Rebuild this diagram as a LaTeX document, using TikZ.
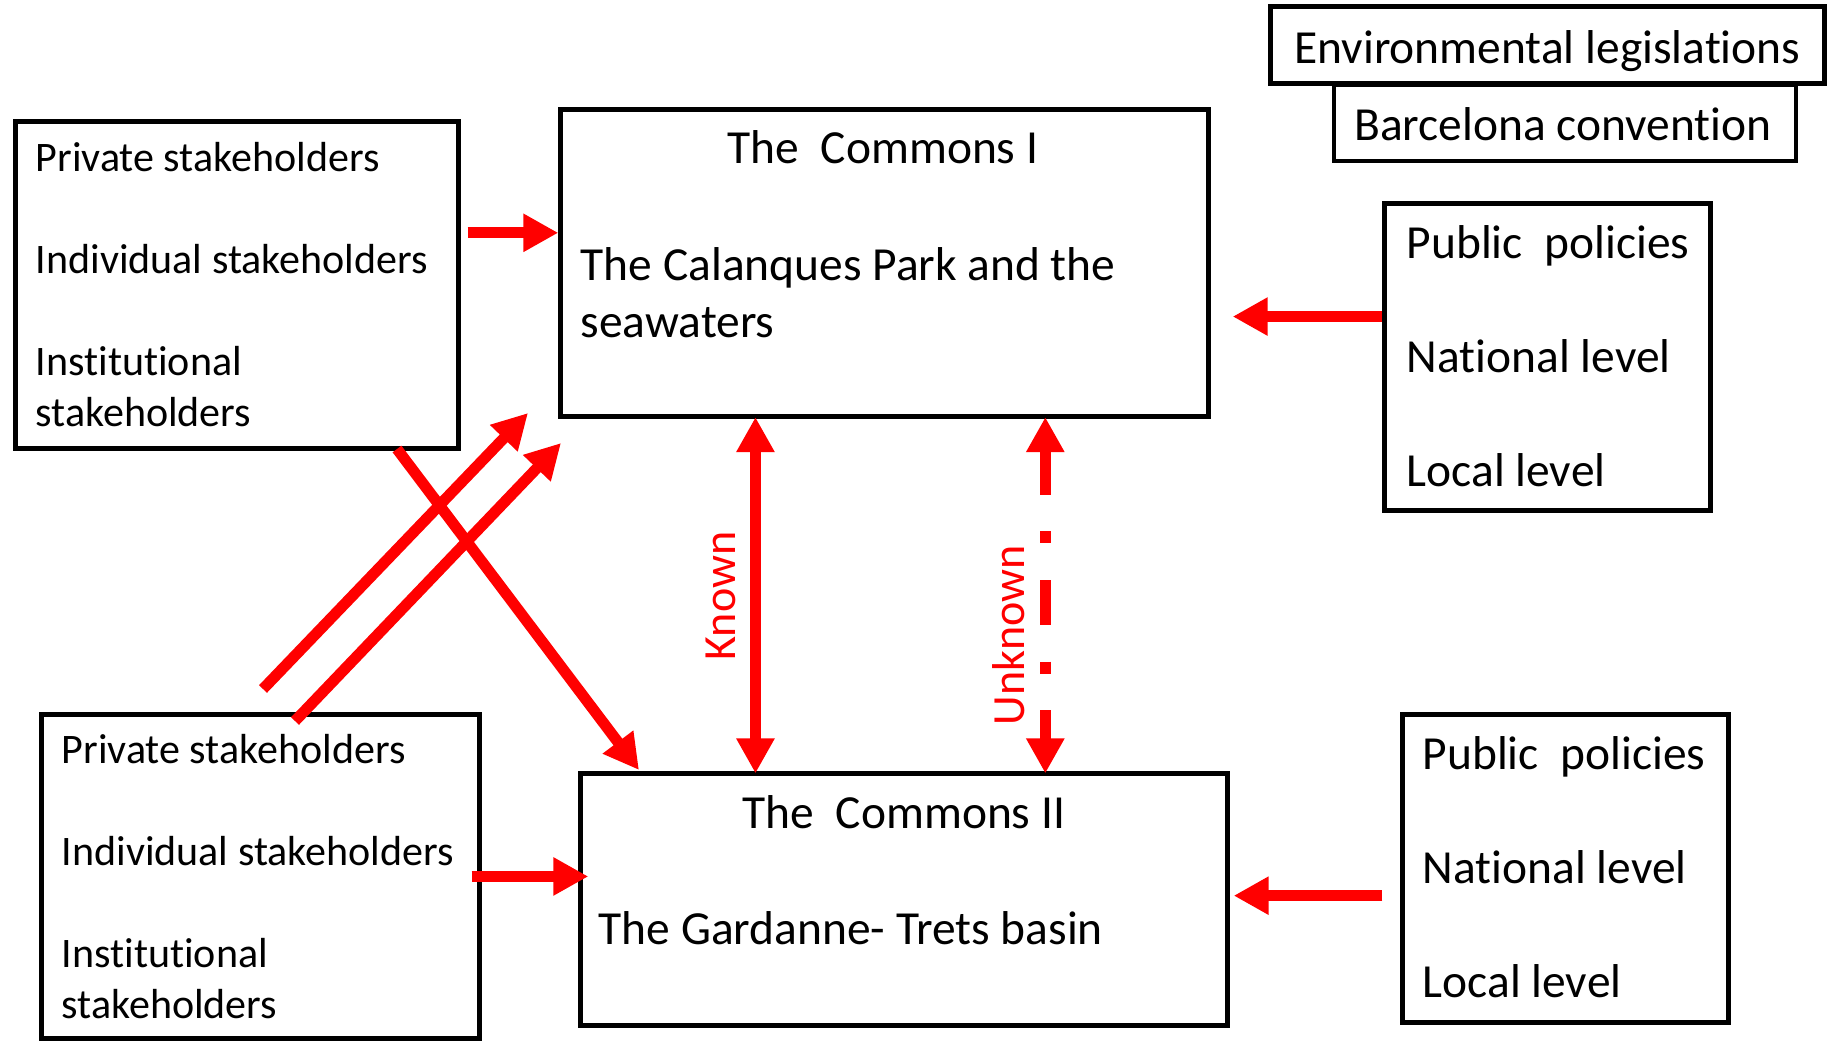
\documentclass[tikz,border=0pt]{standalone}
\usepackage{fontspec}
\setmainfont{Carlito}[Ligatures={NoCommon}]
\usetikzlibrary{arrows.meta,calc}
\definecolor{pptred}{RGB}{255,0,0}
\newcommand\stkfont{\fontsize{11.95pt}{0.51cm}\selectfont}
\newcommand\bigfont{\fontsize{13.5pt}{0.57cm}\selectfont}
\newcommand\lblfont{\fontsize{13.1pt}{0.55cm}\selectfont}
\begin{document}
\begin{tikzpicture}[x=0.01cm,y=-0.01cm,
  box/.style={draw=black, line width=0.05cm, inner sep=0pt, rectangle},
  thinbox/.style={draw=black, line width=0.038cm, inner sep=0pt, rectangle},
  txt/.style={inner sep=0pt, anchor=base west},
  ctxt/.style={inner sep=0pt, anchor=base},
  arr/.style={draw=pptred, line width=0.11cm, -{Triangle[length=0.35cm,width=0.36cm]}},
  biarr/.style={draw=pptred, line width=0.11cm, {Triangle[length=0.35cm,width=0.36cm]}-{Triangle[length=0.35cm,width=0.36cm]}, shorten <=-0.055cm, shorten >=-0.05cm},
  lbl/.style={inner sep=0pt, anchor=base, rotate=90, text=pptred, font=\lblfont}
]
\useasboundingbox (0,0) rectangle (1829,1042);

% boxes
\node[box, minimum width=4.42cm, minimum height=3.26cm] (sh1) at (237,285) {};
\node[box, minimum width=6.47cm, minimum height=3.06cm] (c1) at (884.5,263) {};
\node[box, minimum width=3.25cm, minimum height=3.06cm] (pp1) at (1547.5,357) {};
\node[thinbox, minimum width=4.62cm, minimum height=0.76cm] (bar) at (1565,123) {};
\node[box, fill=white, minimum width=5.53cm, minimum height=0.76cm] (env) at (1547.5,45) {};
\node[box, minimum width=4.37cm, minimum height=3.23cm] (sh2) at (260.5,876.5) {};
\node[box, minimum width=6.46cm, minimum height=2.51cm] (c2) at (904,899.5) {};
\node[box, minimum width=3.25cm, minimum height=3.07cm] (pp2) at (1565.5,868.5) {};

% texts
\node[ctxt] (envt) at (1547.5,63) {\bigfont Environmental legislations};
\node[ctxt] (bart) at (1563,140) {\bigfont Barcelona convention};
\node[txt] (sh1t) at (35,171) {\parbox[t]{4.2cm}{\stkfont Private stakeholders\\[0.51cm]Individual stakeholders\\[0.51cm]Institutional\\stakeholders}};
\node[txt] (sh2t) at (61,763) {\parbox[t]{4.2cm}{\stkfont Private stakeholders\\[0.51cm]Individual stakeholders\\[0.51cm]Institutional\\stakeholders}};
\node[ctxt] (c1t) at (883,163) {\bigfont The\ \ Commons I};
\node[txt] (c1b) at (580,280) {\parbox[t]{6.1cm}{\bigfont The Calanques Park and the\\seawaters}};
\node[ctxt] (c2t) at (904,828) {\bigfont The\ \ Commons II};
\node[txt] (c2b) at (598,944) {\bigfont The Gardanne- Trets basin};
\node[txt] (pp1t) at (1406,258) {\parbox[t]{3cm}{\bigfont Public\ \ policies\\[0.57cm]National level\\[0.57cm]Local level}};
\node[txt] (pp2t) at (1422,769) {\parbox[t]{3cm}{\bigfont Public\ \ policies\\[0.57cm]National level\\[0.57cm]Local level}};

% horizontal arrows
\coordinate (a1) at ($(c1.north west)!0.403!(c1.south west)$);
\draw[arr] ([xshift=0.07cm]sh1.east |- a1) -- (a1);
\coordinate (a2) at ($(pp1.north west)!0.37!(pp1.south west)$);
\draw[arr] (a2) -- ([xshift=0.22cm]c1.east |- a2);
\coordinate (a3) at ($(c2.north west)!0.41!(c2.south west)$);
\draw[arr] ([xshift=-0.10cm]sh2.east |- a3) -- ([xshift=0.10cm]a3);
\coordinate (a4) at ($(c2.north east)!0.485!(c2.south east)$);
\draw[arr] ([xshift=-0.18cm]pp2.west |- a4) -- ([xshift=0.04cm]a4);

% vertical arrows
\coordinate (k1) at ($(c1.south west)!0.3022!(c1.south east)$);
\draw[biarr] ([yshift=-0.04cm]k1) -- ([yshift=0.03cm]k1 |- c2.north);
\coordinate (u1) at ($(c1.south west)!0.7465!(c1.south east)$);
\draw[biarr, dash pattern=on 0.45cm off 0.365cm on 0.12cm off 0.365cm] ([yshift=-0.04cm]u1) -- ([yshift=0.03cm]u1 |- c2.north);
\node[lbl] (kl) at (735,596) {Known};
\node[lbl] (ul) at (1024,635) {Unknown};

% diagonal arrows
\coordinate (dA1) at (263,689);
\coordinate (dA2) at (528,413);
\coordinate (dB1) at (295,721);
\coordinate (dB2) at (561,443);
\coordinate (dC1) at (397,449);
\coordinate (dC2) at (639,770);
\draw[arr] (dA1) -- (dA2);
\draw[arr] (dB1) -- (dB2);
\draw[arr] (dC1) -- (dC2);
\end{tikzpicture}
\end{document}
